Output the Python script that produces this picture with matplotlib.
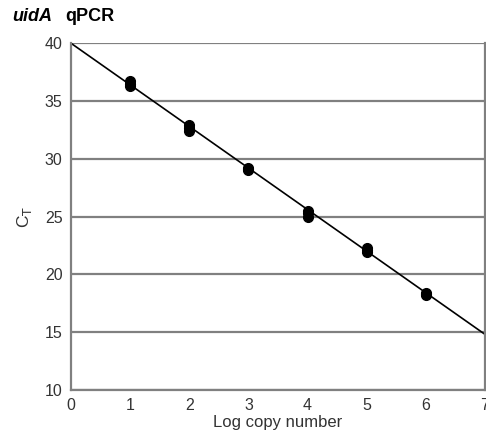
import numpy as np
import matplotlib.pyplot as plt

plt.rcParams['font.family'] = ['Liberation Sans', 'DejaVu Sans']

# replicate Ct values per log copy number
log_copies = [1, 1, 1, 2, 2, 2, 3, 3, 3, 4, 4, 4, 5, 5, 5, 6, 6, 6]
ct_values = [36.3, 36.5, 36.7, 32.4, 32.7, 32.9, 29.0, 29.1, 29.2,
             25.0, 25.3, 25.5, 21.9, 22.1, 22.3, 18.2, 18.3, 18.4]

# standard curve
fit_slope = -3.6
fit_intercept = 40.0
fit_x = [0, 7]

x_ticks = [0, 1, 2, 3, 4, 5, 6, 7]
y_ticks = [10, 15, 20, 25, 30, 35, 40]

fig = plt.figure(figsize=(4.86, 4.41), dpi=100)
ax = fig.add_axes([0.146, 0.116, 0.852, 0.786])

for y in y_ticks:
    ax.axhline(y, color='#808080', lw=1.6, zorder=1)

fx = np.array(fit_x, dtype=float)
ax.plot(fx, fit_intercept + fit_slope * fx, color='black', lw=1.2, zorder=2)
ax.plot(log_copies, ct_values, 'o', color='black', ms=7, zorder=3)

ax.set_xlim(0, 7)
ax.set_ylim(10, 40)
ax.set_xticks(x_ticks)
ax.set_yticks(y_ticks)
ax.tick_params(length=0, labelsize=11.5, colors='#333333', pad=6)
ax.set_xticklabels([str(t) for t in x_ticks])
for s in ax.spines.values():
    s.set_color('#808080')
    s.set_linewidth(1.6)
ax.spines['top'].set_visible(False)

ax.set_xlabel('Log copy number', fontsize=12, color='#333333', labelpad=1)
ax.set_ylabel(r'C$_\mathrm{T}$', fontsize=12.5, color='#333333', labelpad=8)

fig.text(0.025, 0.952, 'uidA', fontsize=13, fontweight='bold', style='italic')
fig.text(0.135, 0.952, 'qPCR', fontsize=13, fontweight='bold')

fig.savefig('out.png', dpi=100)
